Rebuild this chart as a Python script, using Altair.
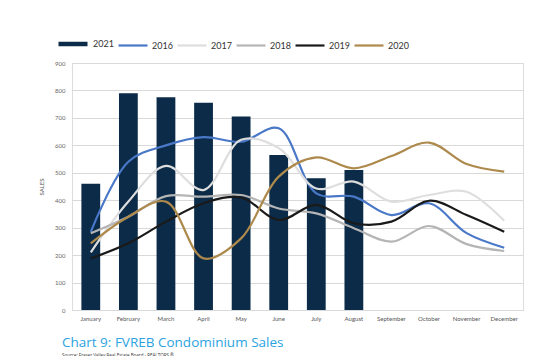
import altair as alt
import pandas as pd

months = ["January", "February", "March", "April", "May", "June", "July",
          "August", "September", "October", "November", "December"]
years = ["2021", "2016", "2017", "2018", "2019", "2020"]
colors = ["#0b2b48", "#4a78c8", "#dedede", "#b5b5b5", "#1a1a1a", "#ad8a4c"]

sales_2021 = [460, 790, 775, 755, 705, 565, 480, 510]
sales_2016 = [285, 540, 600, 630, 613, 662, 425, 413, 346, 389, 280, 227]
sales_2017 = [210, 395, 525, 437, 620, 590, 443, 468, 395, 419, 431, 325]
sales_2018 = [280, 340, 415, 413, 419, 370, 352, 298, 249, 306, 240, 215]
sales_2019 = [188, 243, 322, 389, 410, 328, 383, 316, 322, 398, 346, 285]
sales_2020 = [243, 340, 395, 188, 261, 486, 556, 516, 561, 610, 532, 504]
y_ticks = [0, 100, 200, 300, 400, 500, 600, 700, 800, 900]

bar_df = pd.DataFrame({"month": months[:len(sales_2021)], "sales": sales_2021})
rows = []
for yr, vals in [("2016", sales_2016), ("2017", sales_2017), ("2018", sales_2018),
                 ("2019", sales_2019), ("2020", sales_2020)]:
    for m, v in zip(months, vals):
        rows.append({"month": m, "year": yr, "sales": v})
line_df = pd.DataFrame(rows)

x_axis = alt.Axis(title=None, labelAngle=0, labelFontSize=6, labelColor="#555555",
                  labelFont="Lato", ticks=False, domain=True, domainColor="#d9d9d9",
                  labelPadding=5)
x_scale = alt.Scale(domain=months, paddingInner=0.5, paddingOuter=0.25)
y_scale = alt.Scale(domain=[0, 900], nice=False)
y_axis = alt.Axis(title="SALES", titleFontSize=6, titleFontWeight="normal", titleColor="#555555",
                  titleFont="Lato", titlePadding=10, labelFontSize=6, labelColor="#666666",
                  labelFont="Lato", values=y_ticks, labelOverlap=False, labelSeparation=0,
                  labelBound=False, ticks=False, domain=False, gridColor="#d9d9d9",
                  gridWidth=1, labelPadding=7)

legend_kw = dict(title=None, orient="none", direction="horizontal",
                 legendX=-16, legendY=-36, symbolType="stroke", symbolSize=841,
                 labelFontSize=9, labelFont="Lato", labelColor="#333333",
                 labelOffset=3, columnPadding=0)

bars = alt.Chart(bar_df).mark_bar(color=colors[0]).encode(
    x=alt.X("month:N", sort=months, scale=x_scale, axis=x_axis),
    y=alt.Y("sales:Q", scale=y_scale, axis=y_axis),
)

lines = alt.Chart(line_df).mark_line(interpolate="catmull-rom").encode(
    x=alt.X("month:N", sort=months, scale=x_scale, axis=x_axis),
    y=alt.Y("sales:Q", scale=y_scale, axis=y_axis),
    color=alt.Color("year:N", scale=alt.Scale(domain=years, range=colors),
                    legend=alt.Legend(**legend_kw)),
    strokeWidth=alt.StrokeWidth("year:N",
                                scale=alt.Scale(type="ordinal", domain=years,
                                                range=[4.5, 2.2, 2.2, 2.2, 2.2, 2.2]),
                                legend=alt.Legend(**legend_kw)),
)

chart = alt.layer(bars, lines).properties(
    width=451, height=247,
    autosize=alt.AutoSizeParams(type="none"),
    padding={"left": 64, "top": 55, "right": 10, "bottom": 46},
    title=alt.TitleParams(
        text="Chart 9: FVREB Condominium Sales",
        subtitle="Source: Fraser Valley Real Estate Board - REALTORS \u00ae",
        orient="bottom", anchor="start", frame="group", dx=-10, offset=15,
        font="Open Sans", fontSize=13.5, fontWeight="normal", color="#2ba3e0",
        subtitleFont="Open Sans", subtitleFontSize=4.5, subtitleColor="#333333",
        subtitlePadding=3,
    ),
).configure_view(stroke=None).configure_axisY(labelOverlap=False).configure(background="white")

chart.save("out.html", embed_options={"renderer": "svg", "actions": False})
